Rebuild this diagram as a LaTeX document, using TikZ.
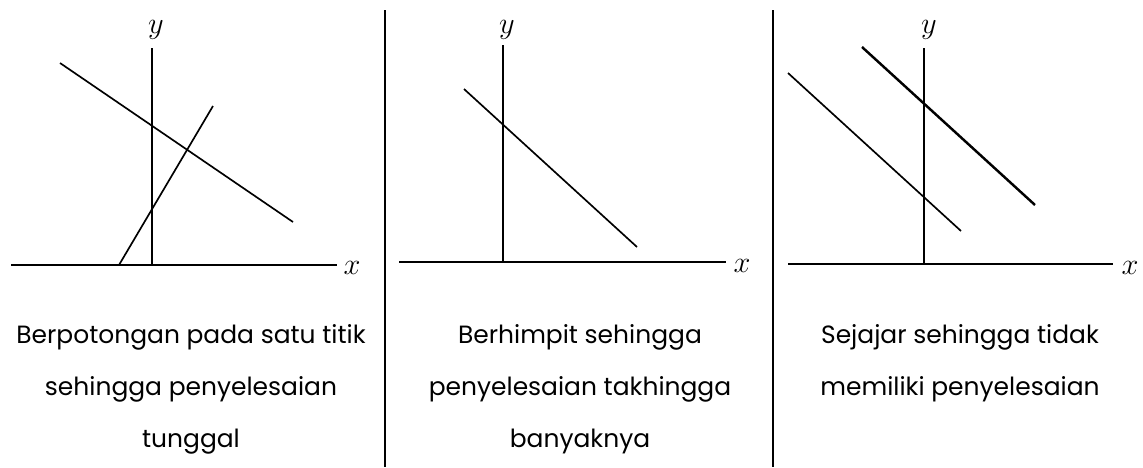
\documentclass[tikz,border=0pt]{standalone}
\usepackage{fontspec}
\setmainfont{Poppins}
\usetikzlibrary{positioning}

\tikzset{
  axisline/.style={line width=1.1pt},
  graphline/.style={line width=0.95pt},
  sepline/.style={line width=1.1pt},
  axlabel/.style={font=\fontsize{18}{20}\selectfont, inner sep=0pt},
  caption/.style={font=\fontsize{14.2}{29.5}\selectfont, align=center, anchor=base, inner sep=0pt}
}

\begin{document}
\begin{tikzpicture}[x=0.02cm, y=-0.02cm]
  \useasboundingbox (0,0) rectangle (1143,467);

  % Separators
  \draw[sepline] (385,10) -- (385,467);
  \draw[sepline] (773,10) -- (773,467);

  % Panel 1: intersecting lines
  \draw[axisline] (11,265) -- (337,265);
  \draw[axisline] (152,48) -- (152,265);
  \node[axlabel] (xa) at (352,268) {$x$};
  \node[axlabel] (ya) at (156,30) {$y$};
  \draw[graphline] (60,63) -- (293,222);
  \draw[graphline] (119,265) -- (213,106);
  \node[caption] (capa) at (191,447) {Berpotongan pada satu titik\\sehingga penyelesaian\\tunggal};

  % Panel 2: coinciding lines
  \draw[axisline] (399,262) -- (726,262);
  \draw[axisline] (503,45) -- (503,262);
  \node[axlabel] (xb) at (742,266) {$x$};
  \node[axlabel] (yb) at (507,30) {$y$};
  \draw[graphline] (464,89) -- (637,247);
  \node[caption] (capb) at (580,447) {Berhimpit sehingga\\penyelesaian takhingga\\banyaknya};

  % Panel 3: parallel lines
  \draw[axisline] (788,264) -- (1113,264);
  \draw[axisline] (924,48) -- (924,264);
  \node[axlabel] (xc) at (1130,268) {$x$};
  \node[axlabel] (yc) at (929,30) {$y$};
  \draw[graphline] (788,73) -- (961,231);
  \draw[graphline, line width=1.4pt] (862,47) -- (1035,205);
  \node[caption] (capc) at (960,395) {Sejajar sehingga tidak\\memiliki penyelesaian};
\end{tikzpicture}
\end{document}
